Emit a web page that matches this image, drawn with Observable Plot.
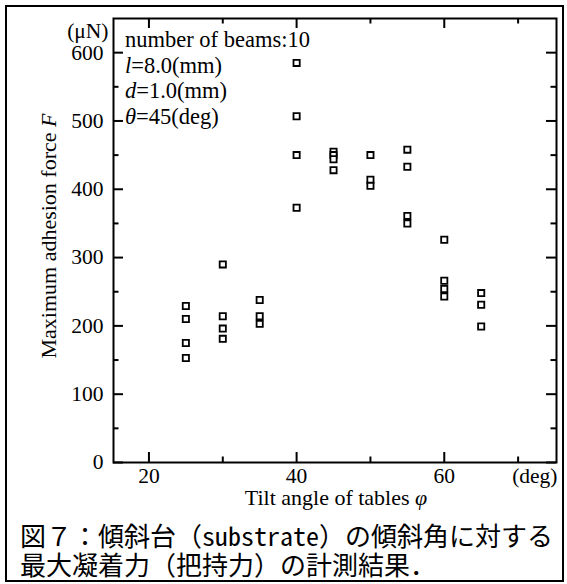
<!DOCTYPE html>
<html><head><meta charset="utf-8">
<script src="https://cdn.jsdelivr.net/npm/d3@7"></script>
<script src="https://cdn.jsdelivr.net/npm/@observablehq/plot@0.6"></script>
<style>
html,body{margin:0;padding:0;background:#fff;}
#wrap{position:relative;width:567px;height:584px;overflow:hidden;}
#box{position:absolute;left:5px;top:5px;width:559px;height:577px;border:2px solid #000;box-sizing:border-box;}
#chart{position:absolute;left:0;top:0;}
#cap{position:absolute;left:20px;top:520px;font-family:"Noto Sans CJK JP",sans-serif;font-size:26px;line-height:29px;white-space:nowrap;color:#000;}
.hw{font-feature-settings:"hwid" 1;}
</style></head><body>
<div id="wrap"><div id="box"></div><div id="chart"></div>
<div id="cap"></div></div>
<script>
// ---- data ----
const angles = [25,25,25,25, 30,30,30,30, 35,35,35, 40,40,40,40, 45,45,45,45, 50,50,50, 55,55,55,55, 60,60,60,60, 65,65,65];
const forces = [229,210,175,153, 290,214,196,181, 238,214,203, 585,507,450,373, 455,450,444,428, 450,414,405, 458,433,361,350, 326,266,254,243, 248,231,199];

// ---- ticks ----
const yMajor = [0,100,200,300,400,500,600];
const yMinor = [50,150,250,350,450,550];
const xMajor = [20,40,60];
const xMinor = [30,50,70];

// ---- texts ----
const yUnit = "(μN)";
const xUnit = "(deg)";
const yLabelParts = [["Maximum adhesion force ", false], ["F", true]];
const xLabelParts = [["Tilt angle of tables ", false], ["φ", true]];
const noteLines = [
  [["number of beams:10", false]],
  [["l", true], ["=8.0(mm)", false]],
  [["d", true], ["=1.0(mm)", false]],
  [["θ", true], ["=45(deg)", false]]
];
const caption1 = ["図７：傾斜台（", "substrate", "）の傾斜角に対する"];
const caption2 = "最大凝着力（把持力）の計測結果．";

// ---- layout ----
const W = 567, H = 520, mL = 113, mR = 11, mT = 18, mB = 58;
const fW = W - mL - mR, fH = H - mT - mB;
const MAJ = 10, MIN = 5.5;
const serif = "'Liberation Serif','Times New Roman',serif";

const plot = Plot.plot({
  width: W, height: H,
  marginLeft: mL, marginRight: mR, marginTop: mT, marginBottom: mB,
  style: {background: "transparent", fontFamily: serif, fontSize: "21.5px", overflow: "visible", color: "#000"},
  x: {domain: [15.2, 75.2]},
  y: {domain: [0, 650]},
  marks: [
    Plot.tickY(yMajor, {y: d => d, insetRight: fW - MAJ, strokeWidth: 2}),
    Plot.tickY(yMajor, {y: d => d, insetLeft: fW - MAJ, strokeWidth: 2}),
    Plot.tickY(yMinor, {y: d => d, insetRight: fW - MIN, strokeWidth: 2}),
    Plot.tickY(yMinor, {y: d => d, insetLeft: fW - MIN, strokeWidth: 2}),
    Plot.tickX(xMajor, {x: d => d, insetTop: fH - MAJ, strokeWidth: 2}),
    Plot.tickX(xMajor, {x: d => d, insetBottom: fH - MAJ, strokeWidth: 2}),
    Plot.tickX(xMinor, {x: d => d, insetTop: fH - MIN, strokeWidth: 2}),
    Plot.tickX(xMinor, {x: d => d, insetBottom: fH - MIN, strokeWidth: 2}),
    Plot.frame({strokeWidth: 2, stroke: "#000"}),
    Plot.axisY({ticks: yMajor, tickSize: 0, tickPadding: 10, label: null}),
    Plot.axisX({ticks: xMajor, tickSize: 0, tickPadding: 5, label: null}),
    Plot.text([xUnit], {frameAnchor: "bottom-right", textAnchor: "end", lineAnchor: "top", dy: 5, dx: 1}),
    Plot.text([yUnit], {frameAnchor: "top-left", textAnchor: "end", lineAnchor: "middle", dx: -5, dy: 13}),
    Plot.dot(forces, {x: (d, i) => angles[i], y: d => d, symbol: "square", r: 3.5, stroke: "#000", strokeWidth: 1.8, fill: "white"})
  ]
});

const svg = d3.select(plot);
// annotation block
const ann = svg.append("g").attr("font-family", serif).attr("font-size", 22.5).attr("fill", "#000").attr("text-anchor", "start");
noteLines.forEach((parts, i) => {
  const t = ann.append("text").attr("x", 125).attr("y", 46.7 + i * 25.8);
  parts.forEach(([s, it]) => t.append("tspan").attr("font-style", it ? "italic" : null).text(s));
});
// y label
const yl = svg.append("text").attr("font-family", serif).attr("font-size", 22).attr("text-anchor", "middle")
  .attr("transform", "translate(55.5,236) rotate(-90)");
yLabelParts.forEach(([s, it]) => yl.append("tspan").attr("font-style", it ? "italic" : null).text(s));
// x label
const xl = svg.append("text").attr("font-family", serif).attr("font-size", 22).attr("text-anchor", "middle")
  .attr("x", 336).attr("y", 505);
xLabelParts.forEach(([s, it]) => xl.append("tspan").attr("font-style", it ? "italic" : null).text(s));

document.getElementById("chart").appendChild(plot);

// caption (two lines in one block)
const cap = document.getElementById("cap");
cap.append(caption1[0]);
const sp = document.createElement("span"); sp.className = "hw"; sp.textContent = caption1[1]; cap.append(sp);
cap.append(caption1[2]);
cap.append(document.createElement("br"));
cap.append(caption2);
</script>
</body></html>
